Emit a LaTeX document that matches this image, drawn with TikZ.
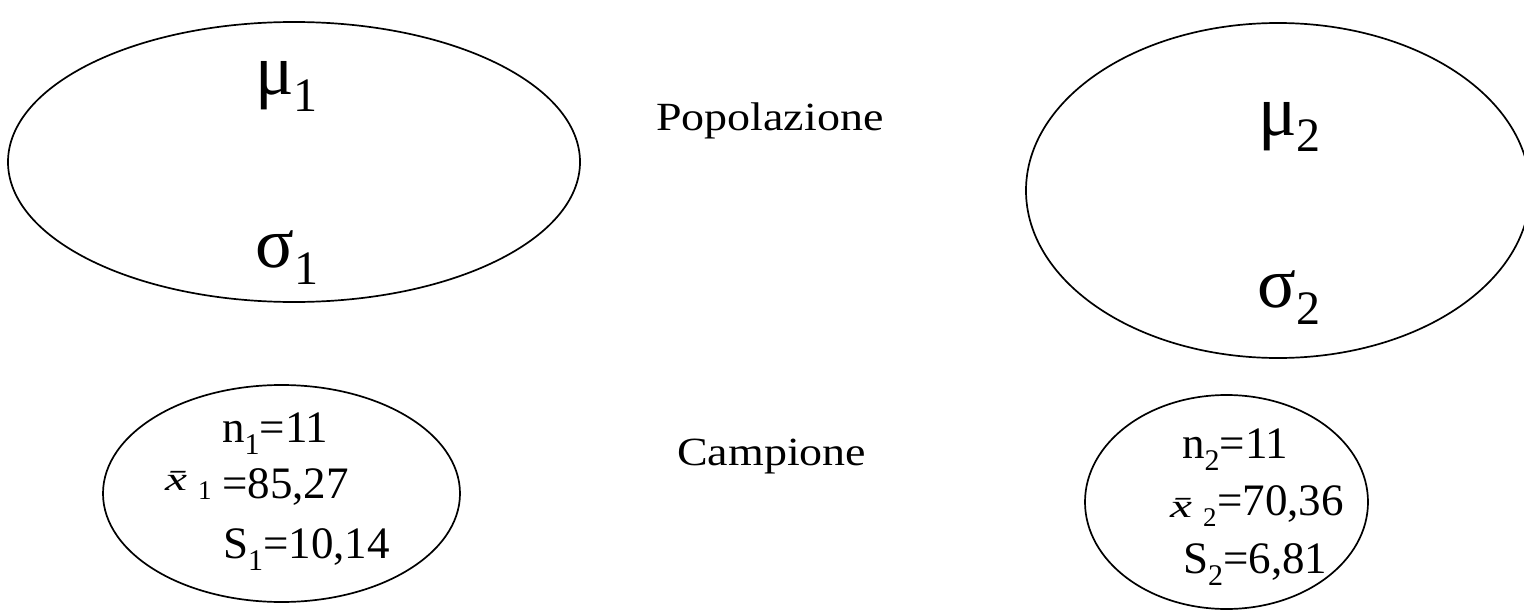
\documentclass[tikz,border=0pt]{standalone}
\usepackage{fontspec}
\setmainfont{Liberation Serif}
\usetikzlibrary{shapes.geometric}
\newcommand\gksym[2]{{\fontsize{72}{80}\selectfont #1}\raisebox{-17pt}{\fontsize{48}{52}\selectfont #2}}
\newcommand\smsub[1]{\raisebox{-12pt}{\fontsize{30}{32}\selectfont #1}}
\newcommand\xbarsub[1]{\scalebox{1.5}[1]{\fontsize{33}{35}\selectfont\textit{\=x}}\hspace{-1pt}\raisebox{-9pt}{\fontsize{27}{29}\selectfont #1}}
\begin{document}
\begin{tikzpicture}[x=1pt,y=-1pt,
  ell/.style={draw,ellipse,line width=1.7pt,inner sep=0pt},
  lbl/.style={anchor=base west,inner sep=0pt},
  sm/.style={lbl,font=\fontsize{45}{50}\selectfont},
  big/.style={lbl,font=\fontsize{40}{44}\selectfont}]
\useasboundingbox (0,0) rectangle (1524,610);
% ellipses
\node[ell,minimum width=572pt,minimum height=280pt] (P1) at (294,162) {};
\node[ell,minimum width=504pt,minimum height=335pt] (P2) at (1278,190.5) {};
\node[ell,minimum width=357pt,minimum height=217pt] (C1) at (281.5,493.5) {};
\node[ell,minimum width=283pt,minimum height=214pt] (C2) at (1226.5,502) {};
% population parameters
\node[lbl] (mu1) at (255,95) {\gksym{μ}{1}};
\node[lbl] (s1) at (255,267) {\gksym{σ}{1}};
\node[lbl] (mu2) at (1258,135) {\gksym{μ}{2}};
\node[lbl] (s2) at (1257,307) {\gksym{σ}{2}};
% labels
\node[big] (pop) at (656,130) {\scalebox{1.15}[1]{Popolazione}};
\node[big] (camp) at (677,465) {\scalebox{1.15}[1]{Campione}};
% sample 1
\node[sm] (n1) at (222,442) {n\smsub{1}=11};
\node[lbl] (xb1) at (165,490) {\xbarsub{1}};
\node[sm] (m1) at (222,498) {=85,27};
\node[sm] (S1) at (223,558) {S\smsub{1}=10,14};
% sample 2
\node[sm] (n2) at (1182,458) {n\smsub{2}=11};
\node[lbl] (xb2) at (1170,517) {\xbarsub{2}};
\node[sm] (m2) at (1217,515) {=70,36};
\node[sm] (S2) at (1183,573) {S\smsub{2}=6,81};
\end{tikzpicture}
\end{document}
